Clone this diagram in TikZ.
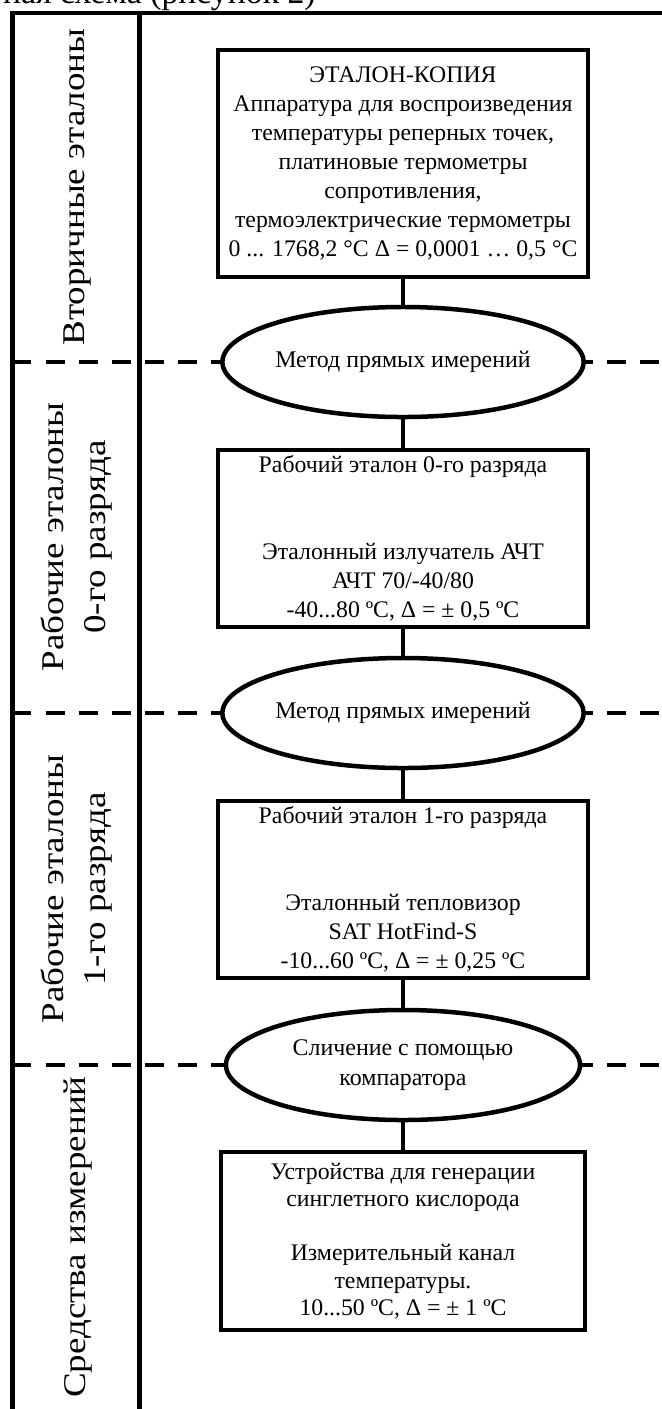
\documentclass[tikz,border=0pt]{standalone}
\usepackage{fontspec}
\setmainfont{Liberation Serif}
\newfontfamily\lanefont[FakeStretch=1.17]{Liberation Serif}
\usepackage{tikz}
\usetikzlibrary{shapes.geometric}
\usetikzlibrary{positioning}

\begin{document}
\begin{tikzpicture}[x=0.025cm,y=-0.025cm,
	etalon/.style={draw,line width=3.4pt,fill=white,align=center,inner sep=0pt,font=\fontsize{16.9}{20.6}\selectfont},
	method/.style={ellipse,draw,line width=3.2pt,fill=white,align=center,inner sep=0pt,minimum width=8.85cm,minimum height=2.75cm,font=\fontsize{17}{21.3}\selectfont},
	lane/.style={rotate=90,align=center,font=\lanefont\fontsize{22.5}{29.9}\selectfont},
	level/.style={line width=3.4pt,dash pattern=on 13.5pt off 10pt},
	frame/.style={line width=3.4pt}]
	
	\useasboundingbox (0,0) rectangle (662,1409);
	
	\node [anchor=base east,inner sep=0pt,font=\fontsize{24}{28}\selectfont] (caption) at (316,3) {ная схема (рисунок 2)};
	
	\draw [frame] (662,13) -- (12.5,13) -- (12.5,1409);
	
	\draw [frame] (139.5,13) -- (139.5,1409);
	
	\draw [level] (12.5,362) -- (662,362);
	
	\draw [level] (12.5,713) -- (662,713);
	
	\draw [level] (12.5,1065) -- (662,1065);
	
	\node [lane] (secondary) at (78,187) {Вторичные эталоны};
	
	\node [lane] (work0) at (77,537) {Рабочие эталоны\\0-го разряда};
	
	\node [lane] (work1) at (77,889) {Рабочие эталоны\\1-го разряда};
	
	\node [lane] (means) at (78,1237) {Средства измерений};
	
	\node [etalon,minimum width=9.25cm,minimum height=5.675cm] (copy) at (403,163.5) {ЭТАЛОН-КОПИЯ\\Аппаратура для воспроизведения\\температуры реперных точек,\\платиновые термометры\\сопротивления,\\термоэлектрические термометры\\0 ... 1768,2 °C Δ = 0,0001 … 0,5 °C};
	
	\node [method] (direct0) at (403,362) {Метод прямых имерений};
	
	\node [etalon,minimum width=9.25cm,minimum height=4.425cm] (grade0) at (403,538.5) {Рабочий эталон 0-го разряда\\[41.2pt]Эталонный излучатель АЧТ\\АЧТ 70/-40/80\\-40...80 ºC, Δ = ± 0,5 ºC};
	
	\node [method] (direct1) at (403,713) {Метод прямых имерений};
	
	\node [etalon,minimum width=9.25cm,minimum height=4.425cm] (grade1) at (403,889.5) {Рабочий эталон 1-го разряда\\[41.2pt]Эталонный тепловизор\\SAT HotFind-S\\-10...60 ºC, Δ = ± 0,25 ºC};
	
	\node [method] (compare) at (403,1065) {Сличение с помощью\\компаратора};
	
	\node [etalon,minimum width=9.1cm,minimum height=4.45cm,font=\fontsize{16.9}{19.4}\selectfont] (device) at (403,1241) {Устройства для генерации\\синглетного кислорода\\[19.4pt]Измерительный канал\\температуры.\\10...50 ºC, Δ = ± 1 ºC};
	
	\draw [frame] (copy) -- (direct0);
	
	\draw [frame] (direct0) -- (grade0);
	
	\draw [frame] (grade0) -- (direct1);
	
	\draw [frame] (direct1) -- (grade1);
	
	\draw [frame] (grade1) -- (compare);
	
	\draw [frame] (compare) -- (device);
	
\end{tikzpicture}
\end{document}
